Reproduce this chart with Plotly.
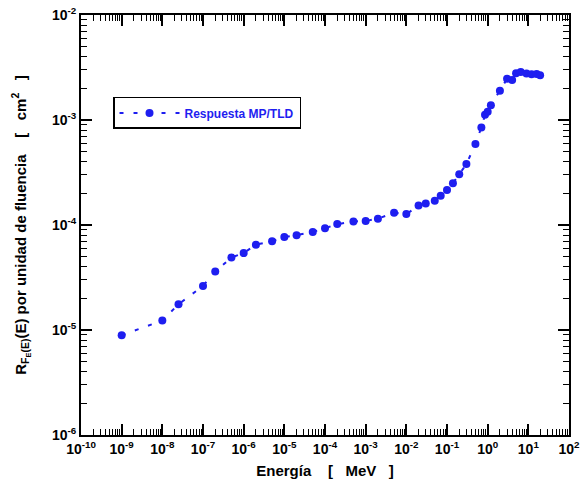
import plotly.graph_objects as go

energy_mev = [1e-9, 1e-8, 2.5e-8, 1e-7, 2e-7, 5e-7, 1e-6, 2e-6, 5e-6, 1e-5, 2e-5, 5e-5,
              1e-4, 2e-4, 5e-4, 1e-3, 2e-3, 5e-3, 1e-2, 2e-2, 3e-2, 5e-2, 7e-2, 1e-1,
              1.4e-1, 2e-1, 3e-1, 5e-1, 7e-1, 8.6e-1, 1.0, 1.2, 2.0, 3.0, 4.0, 5.0,
              6.5, 9.0, 12.0, 16.0, 19.5]
response = [8.9e-6, 1.23e-5, 1.76e-5, 2.63e-5, 3.6e-5, 4.9e-5, 5.4e-5, 6.5e-5, 7.0e-5,
            7.7e-5, 8.0e-5, 8.6e-5, 9.3e-5, 1.02e-4, 1.08e-4, 1.09e-4, 1.15e-4, 1.31e-4,
            1.27e-4, 1.53e-4, 1.6e-4, 1.7e-4, 1.9e-4, 2.15e-4, 2.5e-4, 3.04e-4, 3.8e-4,
            5.9e-4, 8.5e-4, 1.12e-3, 1.2e-3, 1.38e-3, 1.9e-3, 2.47e-3, 2.4e-3, 2.79e-3,
            2.86e-3, 2.78e-3, 2.72e-3, 2.74e-3, 2.67e-3]

x_exponents = list(range(-10, 3))
y_exponents = list(range(-6, -1))
x_ticktext = ["10<sup>%d</sup>" % e for e in x_exponents]
y_ticktext = ["10<sup>%d</sup>" % e for e in y_exponents]

blue = "rgb(30,30,240)"
font_family = "Liberation Sans, Arial, sans-serif"

fig = go.Figure()
fig.add_trace(go.Scatter(
    x=energy_mev, y=response, mode="lines+markers",
    name="Respuesta MP/TLD",
    line=dict(color=blue, width=2, dash="4px,10px"),
    marker=dict(color=blue, size=8, symbol="circle"),
))

x_minor = [m * 10.0 ** e for e in range(-10, 2) for m in range(2, 10)]
y_minor = [m * 10.0 ** e for e in range(-6, -2) for m in range(2, 10)]

axis_common = dict(
    type="log", showgrid=False, zeroline=False, automargin=False,
    showline=True, linecolor="black", linewidth=2, mirror="allticks",
    ticks="inside", ticklen=11, tickwidth=1.5, tickcolor="black",
    tickfont=dict(family=font_family, size=14, color="black", weight="bold"),
)

fig.update_xaxes(
    **axis_common,
    range=[-10, 2],
    tickmode="array", tickvals=[10.0 ** e for e in x_exponents], ticktext=x_ticktext,
    minor=dict(tickmode="array", tickvals=x_minor, ticks="inside", ticklen=6,
               tickwidth=1, tickcolor="black"),
    title=dict(text="Energía    [   MeV   ]",
               font=dict(family=font_family, size=15, color="black", weight="bold"),
               standoff=10),
)
fig.update_yaxes(
    **axis_common,
    range=[-6, -2],
    tickmode="array", tickvals=[10.0 ** e for e in y_exponents], ticktext=y_ticktext,
    minor=dict(tickmode="array", tickvals=y_minor, ticks="inside", ticklen=6,
               tickwidth=1, tickcolor="black"),
    title=dict(text="R<sub>F<sub>E</sub>(E)</sub>(E) por unidad de fluencia    [   cm<sup>2</sup>   ]",
               font=dict(family=font_family, size=15, color="black", weight="bold"),
               standoff=22),
)

fig.update_layout(
    width=581, height=488,
    margin=dict(l=81, r=12, t=15, b=53, autoexpand=False),
    paper_bgcolor="white", plot_bgcolor="white",
    showlegend=True,
    legend=dict(x=0.0656, y=0.805, xanchor="left", yanchor="top",
                bordercolor="black", borderwidth=1.5, bgcolor="white",
                font=dict(family=font_family, size=12, color=blue, weight="bold"),
                itemwidth=60),
)

fig.write_html("out.html")
